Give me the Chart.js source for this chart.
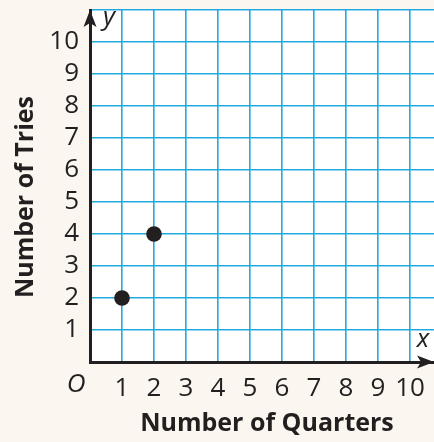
<!DOCTYPE html>
<html>
<head>
<meta charset="utf-8">
<script src="https://cdn.jsdelivr.net/npm/chart.js@4/dist/chart.umd.min.js"></script>
<style>
  html, body { margin: 0; padding: 0; background: #FBF7F0; }
  #wrap { width: 434px; height: 442px; position: relative; }
  canvas { display: block; }
</style>
</head>
<body>
<div id="wrap"><canvas id="c" width="434" height="442"></canvas></div>
<script>
// ---- data ----
const quarters = [1, 2];          // x values (Number of Quarters)
const tries = [2, 4];             // y values (Number of Tries)
const xTickLabels = ['1','2','3','4','5','6','7','8','9','10'];
const yTickLabels = ['1','2','3','4','5','6','7','8','9','10'];
const xTitle = 'Number of Quarters';
const yTitle = 'Number of Tries';
const originLabel = 'O';
const xAxisName = 'x';
const yAxisName = 'y';

const INK = '#231F20';
const GRID = '#22A9E1';
const FONT = '"Open Sans", "Liberation Sans", sans-serif';

const points = quarters.map((q, i) => ({ x: q, y: tries[i] }));

function fixBox(size, key) {
  return s => {
    s[key] = size;
    s.paddingTop = 0; s.paddingBottom = 0; s.paddingLeft = 0; s.paddingRight = 0;
  };
}

const decor = {
  id: 'decor',
  beforeDraw(chart) {
    const { ctx, chartArea: a } = chart;
    ctx.save();
    ctx.fillStyle = '#FFFFFF';
    ctx.fillRect(a.left, a.top, a.right - a.left, a.bottom - a.top);
    ctx.restore();
  },
  afterDraw(chart) {
    const { ctx, chartArea: a, scales } = chart;
    const x0 = scales.x.getPixelForValue(0);
    const y0 = scales.y.getPixelForValue(0);
    ctx.save();
    ctx.fillStyle = INK;
    // y-axis arrow
    ctx.beginPath();
    ctx.moveTo(x0, a.top);
    ctx.lineTo(x0 - 6.5, a.top + 17);
    ctx.lineTo(x0, a.top + 13);
    ctx.lineTo(x0 + 6.5, a.top + 17);
    ctx.closePath();
    ctx.fill();
    // x-axis arrow
    ctx.beginPath();
    ctx.moveTo(a.right, y0);
    ctx.lineTo(a.right - 17, y0 - 6.5);
    ctx.lineTo(a.right - 13, y0);
    ctx.lineTo(a.right - 17, y0 + 6.5);
    ctx.closePath();
    ctx.fill();

    // italic axis names and origin
    ctx.font = 'italic 26px ' + FONT;
    ctx.textAlign = 'center';
    ctx.textBaseline = 'middle';
    ctx.fillText(yAxisName, x0 + 19, a.top + 8);
    ctx.fillText(xAxisName, a.right - 11, y0 - 22);
    ctx.fillText(originLabel, x0 - 14, y0 + 23);

    // axis titles
    ctx.font = 'bold 25px ' + FONT;
    ctx.fillText(xTitle, 267, 424);
    ctx.translate(26, 197);
    ctx.rotate(-Math.PI / 2);
    ctx.fillText(yTitle, 0, 0);
    ctx.restore();
  }
};

new Chart(document.getElementById('c'), {
  type: 'scatter',
  data: {
    datasets: [{
      data: points,
      backgroundColor: INK,
      borderColor: INK,
      borderWidth: 0,
      pointRadius: 7.8,
      pointHoverRadius: 7.8,
      clip: false
    }]
  },
  options: {
    responsive: false,
    animation: false,
    devicePixelRatio: 1,
    layout: { autoPadding: false, padding: { top: 10, right: 0, left: 0, bottom: 0 } },
    plugins: { legend: { display: false }, tooltip: { enabled: false } },
    scales: {
      x: {
        type: 'linear',
        position: 'bottom',
        min: 0,
        max: 10.75,
        afterFit: fixBox(80, 'height'),
        grid: { color: GRID, lineWidth: 1.6, drawTicks: false },
        border: { display: true, color: INK, width: 3 },
        ticks: {
          stepSize: 1,
          includeBounds: false,
          autoSkip: false,
          maxRotation: 0,
          padding: 10.5,
          color: INK,
          font: { family: FONT, size: 26 },
          callback: v => (v >= 1 && v <= xTickLabels.length) ? xTickLabels[v - 1] : ''
        }
      },
      y: {
        type: 'linear',
        position: 'left',
        min: 0,
        max: 11,
        afterFit: fixBox(90, 'width'),
        grid: { color: GRID, lineWidth: 1.6, drawTicks: false },
        border: { display: true, color: INK, width: 3 },
        ticks: {
          stepSize: 1,
          includeBounds: false,
          autoSkip: false,
          padding: 11,
          color: INK,
          font: { family: FONT, size: 26 },
          callback: v => (v >= 1 && v <= yTickLabels.length) ? yTickLabels[v - 1] : ''
        }
      }
    }
  },
  plugins: [decor]
});
</script>
</body>
</html>
